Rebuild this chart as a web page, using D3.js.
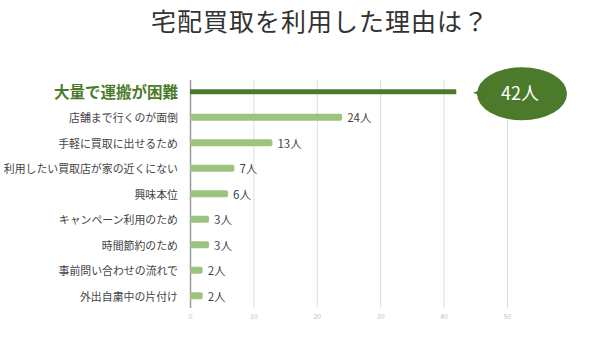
<!DOCTYPE html>
<html>
<head>
    <meta charset="utf-8" />
    <title>宅配買取を利用した理由は？</title>
    <script src="https://cdn.jsdelivr.net/npm/d3@7"></script>
    <style>
        body { margin: 0; background: #fff; }
        svg text { font-family: "Noto Sans CJK JP", "Noto Sans", sans-serif; }
        .tick text { fill: #c4c4c4; font-size: 7px; }
    </style>
</head>
<body>
    <svg width="600" height="337"></svg>
    <script>
        var reasons = [
            '大量で運搬が困難',
            '店舗まで行くのが面倒',
            '手軽に買取に出せるため',
            '利用したい買取店が家の近くにない',
            '興味本位',
            'キャンペーン利用のため',
            '時間節約のため',
            '事前問い合わせの流れで',
            '外出自粛中の片付け'
        ];
        var counts = [42, 24, 13, 7, 6, 3, 3, 2, 2];
        var ticks = [0, 10, 20, 30, 40, 50];

        var svg = d3.select('svg');
        var dark = '#4b7a2b', light = '#9cc47f';

        svg.append('text')
            .attr('x', 320).attr('y', 31)
            .attr('text-anchor', 'middle')
            .attr('font-size', 25)
            .attr('letter-spacing', 1)
            .attr('fill', '#333')
            .text('宅配買取を利用した理由は？');

        var x = d3.scaleLinear().domain([0, 50]).range([190, 507]);
        var y = d3.scaleBand().domain(reasons).range([79, 308.5]);

        // grid + tick labels
        var axis = svg.append('g')
            .attr('transform', 'translate(0,308)')
            .call(d3.axisBottom(x).tickValues(ticks).tickSize(-228).tickPadding(6));
        axis.select('.domain').remove();
        axis.selectAll('.tick line').attr('stroke', '#dcdcdc');
        axis.selectAll('.tick').filter(function (d) { return d === 0; })
            .select('line').attr('stroke', '#9a9a9a').attr('stroke-width', 1.5);

        var rows = svg.selectAll('.row')
            .data(reasons)
            .enter().append('g')
            .attr('class', 'row');

        rows.append('rect')
            .attr('x', x(0))
            .attr('y', function (d, i) { return y(d) + y.bandwidth() / 2 - (i === 0 ? 2.5 : 3.5); })
            .attr('width', function (d, i) { return x(counts[i]) - x(0); })
            .attr('height', function (d, i) { return i === 0 ? 5 : 7; })
            .attr('rx', function (d, i) { return i === 0 ? 0.5 : 2; })
            .attr('fill', function (d, i) { return i === 0 ? dark : light; });

        rows.append('text')
            .attr('x', 178)
            .attr('y', function (d) { return y(d) + y.bandwidth() / 2 + 1; })
            .attr('dy', '0.35em')
            .attr('text-anchor', 'end')
            .attr('font-size', function (d, i) { return i === 0 ? 15.5 : 10.9; })
            .attr('font-weight', function (d, i) { return i === 0 ? 'bold' : 'normal'; })
            .attr('fill', function (d, i) { return i === 0 ? dark : '#444'; })
            .text(function (d) { return d; });

        rows.filter(function (d, i) { return i > 0; })
            .append('text')
            .attr('x', function (d) { return x(counts[reasons.indexOf(d)]) + 5; })
            .attr('y', function (d) { return y(d) + y.bandwidth() / 2 + 1; })
            .attr('dy', '0.35em')
            .attr('font-size', 11.5)
            .attr('fill', '#444')
            .text(function (d) { return counts[reasons.indexOf(d)] + '人'; });

        // speech bubble for the top reason
        var cy = y(reasons[0]) + y.bandwidth() / 2;
        var bx = 522, by = cy + 2;
        var bubble = svg.append('g');
        bubble.append('ellipse')
            .attr('cx', bx).attr('cy', by)
            .attr('rx', 45).attr('ry', 26.5)
            .attr('fill', dark);
        bubble.append('path')
            .attr('d', 'M' + (bx - 49) + ',' + (cy + 1) + 'Q' + (bx - 42) + ',' + (by - 2) + ' ' + (bx - 40) + ',' + (by - 10) + 'L' + (bx - 38) + ',' + (by + 8) + 'Q' + (bx - 42) + ',' + (by + 1) + ' ' + (bx - 49) + ',' + (cy + 1) + 'Z')
            .attr('fill', dark);
        bubble.append('text')
            .attr('x', bx - 2).attr('y', by)
            .attr('dy', '0.35em')
            .attr('text-anchor', 'middle')
            .attr('font-size', 18)
            .attr('fill', '#fff')
            .text(counts[0] + '人');
    </script>
</body>
</html>
